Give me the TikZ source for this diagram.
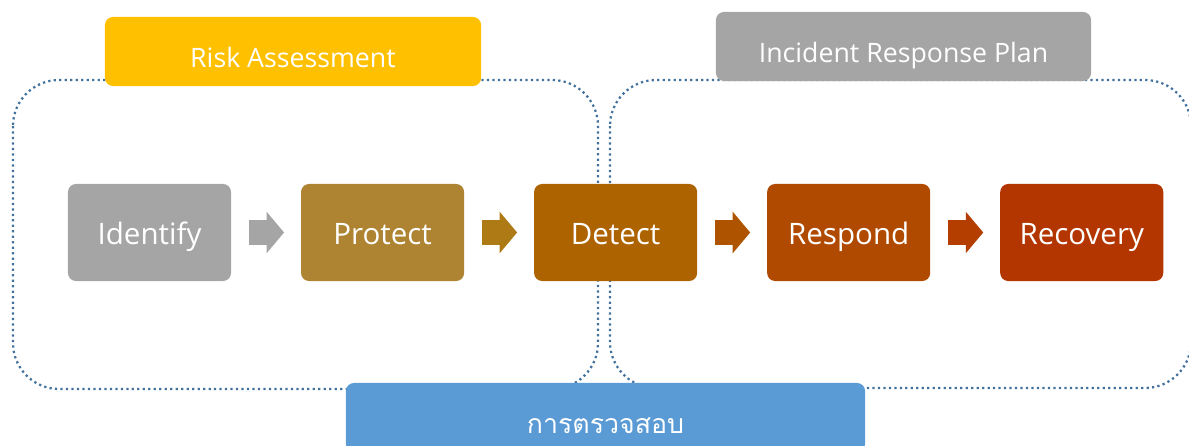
\documentclass[tikz,border=0pt]{standalone}
\usepackage{fontspec}
\setmainfont{Open Sans}
\newfontfamily\thaifont[Script=Thai]{Loma}
\usepackage{tikz}
\usetikzlibrary{positioning, shapes.arrows, calc}
\definecolor{riskgold}{HTML}{FFC000}
\definecolor{plangray}{HTML}{A5A5A5}
\definecolor{auditblue}{HTML}{5B9BD5}
\definecolor{framedot}{HTML}{41719C}
\definecolor{protectc}{HTML}{AE8332}
\definecolor{detectc}{HTML}{AD6400}
\definecolor{respondc}{HTML}{B04A00}
\definecolor{recoveryc}{HTML}{B33600}
\definecolor{arrowtwo}{RGB}{174,122,21}
\definecolor{arrowthree}{RGB}{174,84,0}
\definecolor{arrowfour}{RGB}{179,62,0}
\tikzset{
	stepbox/.style = {fill = #1, text = white, rounded corners = 0.2cm, outer sep = 0pt, minimum width = 4.075cm, minimum height = 2.425cm, font = \fontsize{21}{24}\selectfont, text height = 19pt, text depth = 2pt},
	headbox/.style = {fill = #1, text = white, rounded corners = 0.2cm, minimum height = 1.725cm, font = \fontsize{19}{22}\selectfont, text height = 23pt, text depth = 0pt},
	flowarrow/.style = {single arrow, fill = #1, anchor = tail, minimum height = 0.875cm, minimum width = 1.025cm, single arrow head extend = 0.2125cm, single arrow head indent = 0pt, single arrow tip angle = 100, inner xsep = 0pt, inner ysep = 0.3cm, outer sep = 0pt},
	framedots/.style = {draw = framedot, line width = 1.6pt, dash pattern = on 1.6pt off 2.3pt, rounded corners = 1.15cm}
}

\begin{document}
\begin{tikzpicture}[x = 0.025cm, y = -0.025cm]
	\useasboundingbox (0,0) rectangle (1189,446);
	% the two dotted groups
	\draw[framedots] (13,80) rectangle (598,389);
	\draw[framedots] (610,80) rectangle (1191,388);

	% the five steps
	\node[stepbox = plangray] (identify) at (149.5,232.5) {Identify};
	\node[stepbox = protectc, right = 1.75cm of identify] (protect) {Protect};
	\node[stepbox = detectc, right = 1.75cm of protect] (detect) {Detect};
	\node[stepbox = respondc, right = 1.75cm of detect] (respond) {Respond};
	\node[stepbox = recoveryc, right = 1.75cm of respond] (recovery) {Recovery};

	\node[flowarrow = plangray] (a1) at ([xshift = 0.45cm]identify.east) {};
	\node[flowarrow = arrowtwo] (a2) at ([xshift = 0.45cm]protect.east) {};
	\node[flowarrow = arrowthree] (a3) at ([xshift = 0.45cm]detect.east) {};
	\node[flowarrow = arrowfour] (a4) at ([xshift = 0.45cm]respond.east) {};

	% labels of the groups
	\node[headbox = riskgold, minimum width = 9.4cm] (risk) at (293,51.5) {Risk Assessment};
	\node[headbox = plangray, minimum width = 9.375cm] (plan) at (903.5,46.5) {Incident Response Plan};
	\node[headbox = auditblue, minimum width = 12.975cm, font = \thaifont\fontsize{19}{22}\selectfont] (audit) at (605.5,417.5) {การตรวจสอบ};
\end{tikzpicture}
\end{document}
